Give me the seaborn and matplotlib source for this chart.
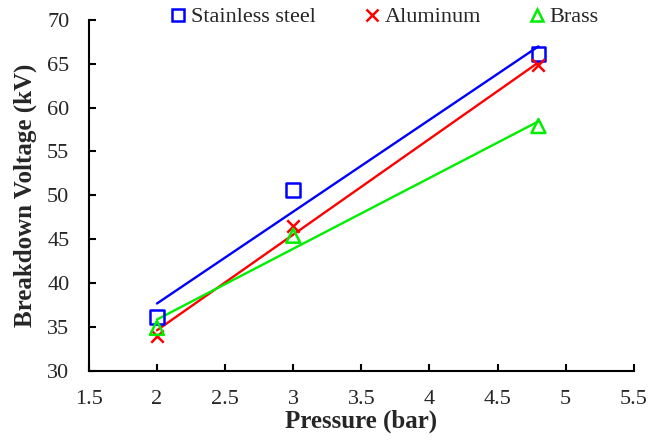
import numpy as np
import pandas as pd
import matplotlib
matplotlib.use('Agg')
import matplotlib.pyplot as plt
import seaborn as sns
from matplotlib.lines import Line2D

pressure = [2, 3, 4.8]
stainless = [36.1, 50.6, 66.1]
aluminum = [34.0, 46.5, 64.8]
brass = [34.9, 45.4, 57.9]

series = [
    ('Stainless steel', stainless, 'blue', 's'),
    ('Aluminum', aluminum, 'red', 'x'),
    ('Brass', brass, '#00ee00', '^'),
]

sns.set_style('white')
plt.rcParams['font.family'] = ['Liberation Serif', 'DejaVu Serif']

fig = plt.figure(figsize=(6.63, 4.41), dpi=100)
ax = fig.add_axes([0.134, 0.159, 0.822, 0.796])

handles = []
for name, vals, color, marker in series:
    df = pd.DataFrame({'p': pressure, 'v': vals})
    # linear trend line through the three measurements
    sns.regplot(data=df, x='p', y='v', ax=ax, ci=None, scatter=False,
                truncate=True, line_kws=dict(color=color, lw=1.7))
    if marker == 'x':
        sns.scatterplot(data=df, x='p', y='v', ax=ax, marker='x', color=color,
                        s=80, linewidth=1.8, zorder=3)
        h = Line2D([], [], marker='x', color=color, ls='', ms=9, mew=1.8)
    else:
        sns.scatterplot(data=df, x='p', y='v', ax=ax, marker=marker,
                        facecolor='none', edgecolor=color, s=100,
                        linewidth=1.8, zorder=3)
        h = Line2D([], [], marker=marker, color=color, mfc='none', ls='',
                   ms=9, mew=1.8)
    handles.append(h)

ax.set_xlim(1.5, 5.5)
ax.set_ylim(30, 70)
ax.set_xticks(np.arange(1.5, 5.51, 0.5))
ax.set_xticklabels(['1.5', '2', '2.5', '3', '3.5', '4', '4.5', '5', '5.5'])
ax.set_yticks(range(30, 71, 5))
ax.tick_params(labelsize=16, direction='in', length=5, width=1.5,
               bottom=True, left=True, color='black', pad=14)
ax.set_xlabel('Pressure (bar)', fontsize=18, fontweight='bold', labelpad=0)
ax.set_ylabel('Breakdown Voltage (kV)', fontsize=18, fontweight='bold', labelpad=7)
for s in ['top', 'right']:
    ax.spines[s].set_visible(False)
for s in ['left', 'bottom']:
    ax.spines[s].set_color('black')
    ax.spines[s].set_linewidth(1.5)

ax.legend(handles, [s[0] for s in series], ncol=3, frameon=False,
          fontsize=16, loc='center', bbox_to_anchor=(0.543, 1.008),
          handlelength=0.7, handletextpad=0.2, columnspacing=2.2,
          borderaxespad=0, borderpad=0)

fig.savefig('out.png', dpi=100)
